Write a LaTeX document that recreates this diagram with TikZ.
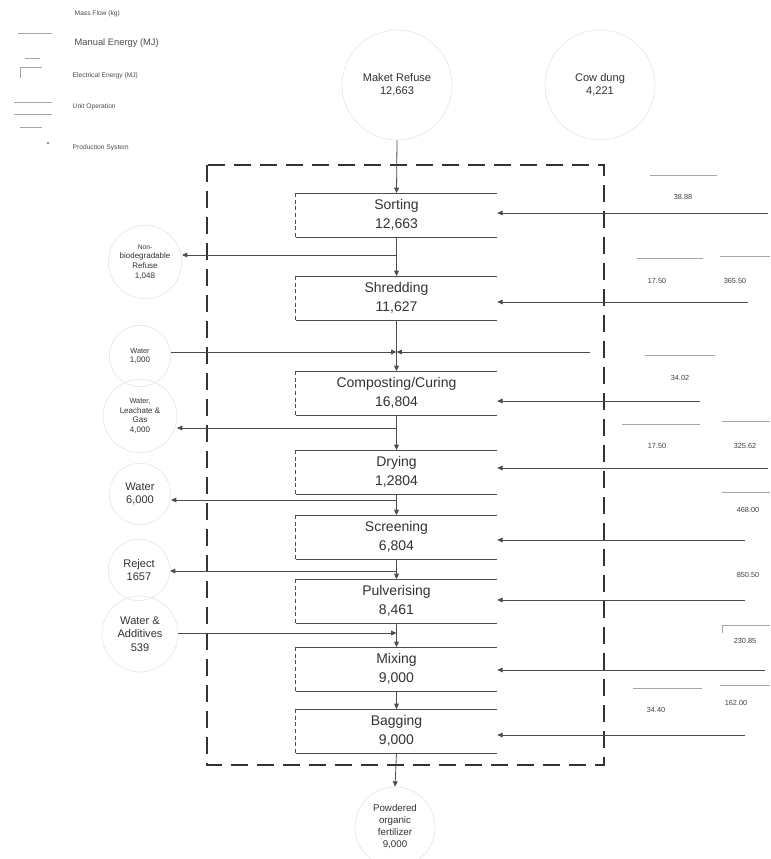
\documentclass[tikz,border=0pt]{standalone}
\usepackage{fontspec}
\setmainfont{Liberation Sans}
\usetikzlibrary{arrows.meta,calc}
\begin{document}
\begin{tikzpicture}[x=0.75pt,y=-0.75pt,
  line/.style={draw=black!70, line width=0.6pt},
  faint/.style={draw=black!35, line width=0.5pt},
  flow/.style={line, -{Triangle[length=4pt,width=3.5pt]}},
  boxline/.style={draw=black!70, line width=0.6pt},
  unitop/.style={minimum width=150.75pt, minimum height=32.5pt, inner sep=0pt, align=center,
    font=\fontsize{10.5}{14}\selectfont, text=black!80},
  src/.style={circle, draw=black!9, line width=0.5pt, align=center, inner sep=0pt, text=black!80},
  small/.style={font=\fontsize{6}{7.2}\selectfont},
  mid/.style={font=\fontsize{8.3}{10}\selectfont},
  enum/.style={font=\fontsize{5.5}{6}\selectfont, text=black!75},
  legtext/.style={anchor=west, font=\fontsize{5}{6}\selectfont, text=black!70},
  prodsys/.style={draw=black!80, line width=1.5pt, dash pattern=on 12.75pt off 6.75pt}
]
\useasboundingbox (0,0) rectangle (770,859);
\fill[white] (0,0) rectangle (770,859);

% ---------- legend ----------
\node[legtext] (lg1) at (70,14) {Mass Flow (kg)};
\node[legtext, font=\fontsize{7}{8}\selectfont] (lg2) at (70,43) {Manual Energy (MJ)};
\node[legtext] (lg3) at (68,76) {Electrical Energy (MJ)};
\node[legtext] (lg4) at (68,107) {Unit Operation};
\node[legtext] (lg5) at (68,148) {Production System};
\draw[faint] (18,33) -- (52,33);
\draw[faint] (25,58) -- (40,58);
\draw[faint] (20,67) -- (42,67);
\draw[faint] (20,67) -- (20,78);
\draw[faint] (14,102) -- (52,102);
\draw[faint] (14,114) -- (52,114);
\draw[faint] (20,127) -- (42,127);
\fill[black!60] (48,143) circle (1.2);

% ---------- production system ----------
\draw[prodsys] (207,165) rectangle (604,765);

% ---------- sources ----------
\node[src, mid, minimum size=82.5pt] (refuse) at (397,85) {Maket Refuse\\12,663};
\node[src, mid, minimum size=82.5pt] (cowdung) at (600,85) {Cow dung\\4,221};

% ---------- unit operations ----------
\node[unitop] (sort)   at (396.5,215) {Sorting\\12,663};
\node[unitop] (shred)  at (396.5,298) {Shredding\\11,627};
\node[unitop] (comp)   at (396.5,393) {Composting/Curing\\16,804};
\node[unitop] (dry)    at (396.5,472) {Drying\\1,2804};
\node[unitop] (screen) at (396.5,537) {Screening\\6,804};
\node[unitop] (pulv)   at (396.5,601) {Pulverising\\8,461};
\node[unitop] (mix)    at (396.5,669) {Mixing\\9,000};
\node[unitop] (bag)    at (396.5,731) {Bagging\\9,000};
\foreach \n in {sort,shred,comp,dry,screen,pulv,mix,bag}{
  \draw[boxline] (\n.north west) -- (\n.north east);
  \draw[boxline] (\n.south west) -- (\n.south east);
  \draw[boxline, line width=0.4pt, densely dashed] (\n.north west) -- (\n.south west);
}

% ---------- side streams ----------
\node[src, small, minimum size=55pt] (nonbio) at (145,262)
  {\fontsize{5}{6.2}\selectfont Non-\\biodegradable\\Refuse\\1,048};
\node[src, small, minimum size=46pt] (water1) at (140,356) {\fontsize{5.5}{7}\selectfont Water\\1,000};
\node[src, small, minimum size=55pt] (leach) at (140,416)
  {\fontsize{5.5}{7}\selectfont Water,\\Leachate \&\\Gas\\4,000};
\node[src, mid, minimum size=46pt] (water2) at (140,494) {Water\\6,000};
\node[src, mid, minimum size=46pt] (reject) at (139,570) {Reject\\1657};
\node[src, mid, minimum size=57pt] (wadd) at (140,634) {Water \&\\Additives\\539};
\node[src, font=\fontsize{7.3}{9}\selectfont, minimum size=60pt] (fert) at (395,827)
  {Powdered\\organic\\fertilizer\\9,000};

% ---------- main mass flow ----------
\draw[flow] (refuse.south) -- (sort.north);
\draw[flow] (sort.south) -- (shred.north);
\coordinate (j1) at (396.5,255);
\draw[flow] (j1) -- (j1 -| nonbio.east);

\coordinate (j2) at (396.5,352);
\coordinate (cd) at (590,352);
\draw[line] (shred.south) -- (j2);
\draw[flow] (water1.east |- j2) -- (j2);
\draw[flow] (cd) -- (j2);
\draw[flow] (j2) -- (comp.north);

\coordinate (j3) at (396.5,428);
\draw[flow] (comp.south) -- (dry.north);
\draw[flow] (j3) -- (j3 -| leach.east);

\coordinate (j4) at (396.5,500);
\draw[flow] (dry.south) -- (screen.north);
\draw[flow] (j4) -- (j4 -| water2.east);

\coordinate (j5) at (396.5,571);
\draw[flow] (screen.south) -- (pulv.north);
\draw[flow] (j5) -- (j5 -| reject.east);

\coordinate (j6) at (396.5,633);
\draw[line] (pulv.south) -- (j6);
\draw[flow] (wadd.east |- j6) -- (j6);
\draw[flow] (j6) -- (mix.north);
\draw[flow] (mix.south) -- (bag.north);
\draw[flow] (bag.south) -- (fert.north);

% ---------- energy inputs ----------
\node[enum] (e1a) at (683,197) {38.88};
\draw[faint] (650,175) -- (717,175);
\coordinate (e1) at (768,213);
\draw[flow] (e1) -- (e1 -| sort.east);

\node[enum] (e2a) at (657,281) {17.50};
\node[enum] (e2b) at (735,281) {365.50};
\draw[faint] (637,258) -- (703,258);
\draw[faint] (720,256) -- (770,256);
\coordinate (e2) at (748,302);
\draw[flow] (e2) -- (e2 -| shred.east);

\node[enum] (e3a) at (680,378) {34.02};
\draw[faint] (645,355) -- (715,355);
\coordinate (e3) at (700,401);
\draw[flow] (e3) -- (e3 -| comp.east);

\node[enum] (e4a) at (657,446) {17.50};
\node[enum] (e4b) at (745,446) {325.62};
\draw[faint] (622,424) -- (700,424);
\draw[faint] (722,421) -- (770,421);
\coordinate (e4) at (768,468);
\draw[flow] (e4) -- (e4 -| dry.east);

\node[enum] (e5a) at (748,510) {468.00};
\draw[faint] (722,492) -- (770,492);
\coordinate (e5) at (745,540);
\draw[flow] (e5) -- (e5 -| screen.east);

\node[enum] (e6a) at (748,575) {850.50};
\coordinate (e6) at (745,600);
\draw[flow] (e6) -- (e6 -| pulv.east);

\node[enum] (e7a) at (745,641) {230.85};
\draw[faint] (722,633) -- (722,625) -- (770,625);
\coordinate (e7) at (765,670);
\draw[flow] (e7) -- (e7 -| mix.east);

\node[enum] (e8a) at (656,710) {34.40};
\node[enum] (e8b) at (736,703) {162.00};
\draw[faint] (633,688) -- (702,688);
\draw[faint] (720,685) -- (770,685);
\coordinate (e8) at (745,735);
\draw[flow] (e8) -- (e8 -| bag.east);
\end{tikzpicture}
\end{document}
